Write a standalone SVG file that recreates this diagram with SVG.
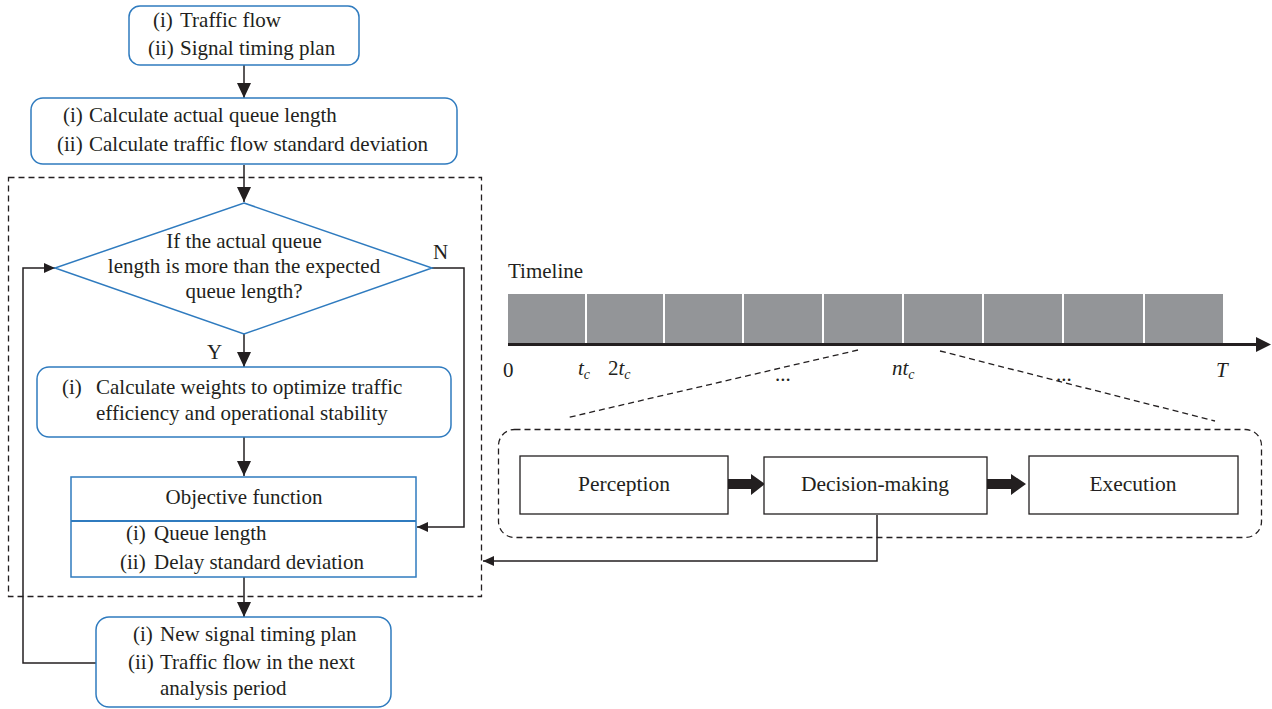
<svg xmlns="http://www.w3.org/2000/svg" width="1272" height="709" viewBox="0 0 1272 709">
<style>
text{font-family:"Liberation Serif","Times New Roman",serif;font-size:21px;fill:#231f20}
.b{fill:#fff;stroke:#2f7bbf;stroke-width:1.5}
.k{fill:#fff;stroke:#231f20;stroke-width:1.3}
.c{fill:none;stroke:#231f20;stroke-width:1.5}
.d{fill:none;stroke:#231f20;stroke-width:1.3;stroke-dasharray:6 4}
.m{text-anchor:middle}
.i{font-style:italic}
.s{font-size:14px}
.r{font-size:21.5px}
</style>
<defs>
<marker id="big" markerUnits="userSpaceOnUse" markerWidth="15" markerHeight="14" refX="15" refY="7" orient="auto"><path d="M0,0 L15,7 L0,14 z" fill="#231f20"/></marker>
<marker id="sm" markerUnits="userSpaceOnUse" markerWidth="11" markerHeight="10" refX="11" refY="5" orient="auto"><path d="M0,0 L11,5 L0,10 z" fill="#231f20"/></marker>
</defs>
<g id="dashed-frame"><rect x="8.5" y="177.5" width="473" height="419" class="d"/></g>
<g id="connectors">
<line x1="244" y1="65" x2="244" y2="98" class="c" marker-end="url(#big)"/>
<line x1="244" y1="165" x2="244" y2="202" class="c" marker-end="url(#big)"/>
<line x1="244" y1="334" x2="244" y2="367" class="c" marker-end="url(#big)"/>
<line x1="244" y1="437" x2="244" y2="476" class="c" marker-end="url(#big)"/>
<line x1="244" y1="577" x2="244" y2="617" class="c" marker-end="url(#big)"/>
<polyline points="432,268 464,268 464,527 417,527" class="c" marker-end="url(#sm)"/>
<polyline points="96,663 23,663 23,268 55,268" class="c" marker-end="url(#sm)"/>
<polyline points="877,515 877,561 483,561" class="c" marker-end="url(#sm)"/>
<line x1="858" y1="350" x2="566" y2="418" class="d"/>
<line x1="940" y1="351" x2="1215" y2="421" class="d"/>
<path d="M728,479 H751 V474 L765,484 L751,495 V489 H728 z" fill="#231f20"/>
<path d="M987,479 H1011 V474 L1026,484 L1011,495 V489 H987 z" fill="#231f20"/>
<text x="433" y="259">N</text>
<text x="207" y="359">Y</text>
</g>
<g id="n1"><rect x="129" y="6" width="230" height="59" rx="11" class="b"/>
<text y="27"><tspan x="153">(i)</tspan><tspan x="180">Traffic flow</tspan></text>
<text y="55"><tspan x="148">(ii)</tspan><tspan x="180">Signal timing plan</tspan></text></g>
<g id="n2"><rect x="31" y="98" width="426" height="66" rx="12" class="b"/>
<text y="122"><tspan x="63">(i)</tspan><tspan x="89">Calculate actual queue length</tspan></text>
<text y="151"><tspan x="57">(ii)</tspan><tspan x="89">Calculate traffic flow standard deviation</tspan></text></g>
<g id="n3"><polygon points="244,203 432,268 244,334 55,268" class="b"/>
<text class="m" x="244" y="248">If the actual queue</text>
<text class="m" x="244" y="273">length is more than the expected</text>
<text class="m" x="244" y="298">queue length?</text></g>
<g id="n4"><rect x="37" y="367" width="414" height="70" rx="12" class="b"/>
<text y="394"><tspan x="62">(i)</tspan><tspan x="96">Calculate weights to optimize traffic</tspan></text>
<text x="96" y="420">efficiency and operational stability</text></g>
<g id="n5"><rect x="71" y="477" width="345" height="100" class="b"/>
<line x1="71" y1="521" x2="416" y2="521" stroke="#2f7bbf" stroke-width="2"/>
<text class="m" x="244" y="504">Objective function</text>
<text y="540"><tspan x="126">(i)</tspan><tspan x="154">Queue length</tspan></text>
<text y="569"><tspan x="120">(ii)</tspan><tspan x="154">Delay standard deviation</tspan></text></g>
<g id="n6"><rect x="96" y="617" width="295" height="90" rx="13" class="b"/>
<text y="641"><tspan x="133">(i)</tspan><tspan x="160">New signal timing plan</tspan></text>
<text y="669"><tspan x="128">(ii)</tspan><tspan x="160">Traffic flow in the next</tspan></text>
<text x="160" y="695">analysis period</text></g>
<g id="timeline">
<text x="508" y="278">Timeline</text>
<rect x="508" y="294" width="715" height="49" fill="#939598"/>
<g stroke="#fff" stroke-width="2"><line x1="586" y1="294" x2="586" y2="343"/><line x1="664" y1="294" x2="664" y2="343"/><line x1="743" y1="294" x2="743" y2="343"/><line x1="823" y1="294" x2="823" y2="343"/><line x1="903" y1="294" x2="903" y2="343"/><line x1="983" y1="294" x2="983" y2="343"/><line x1="1063" y1="294" x2="1063" y2="343"/><line x1="1144" y1="294" x2="1144" y2="343"/></g>
<line x1="508" y1="344.5" x2="1258" y2="344.5" stroke="#231f20" stroke-width="3"/>
<path d="M1256,337 L1271,344.5 L1256,352 z" fill="#231f20"/>
<text x="503" y="377">0</text>
<text x="578" y="375"><tspan class="i">t</tspan><tspan class="i s" dy="4">c</tspan></text>
<text x="608" y="375">2<tspan class="i">t</tspan><tspan class="i s" dy="4">c</tspan></text>
<text x="775" y="381">...</text>
<text x="892" y="375"><tspan class="i">nt</tspan><tspan class="i s" dy="4">c</tspan></text>
<text x="1056" y="381">...</text>
<text x="1216" y="377" class="i">T</text>
</g>
<g id="cycle-frame"><rect x="498.5" y="429.5" width="763" height="108" rx="16" class="d"/></g>
<g id="perception"><rect x="520" y="456" width="208" height="58" class="k"/><text class="m r" x="624" y="491">Perception</text></g>
<g id="decision"><rect x="764" y="457" width="223" height="57" class="k"/><text class="m r" x="875" y="491">Decision-making</text></g>
<g id="execution"><rect x="1029" y="456" width="209" height="58" class="k"/><text class="m r" x="1133" y="491">Execution</text></g>
</svg>
